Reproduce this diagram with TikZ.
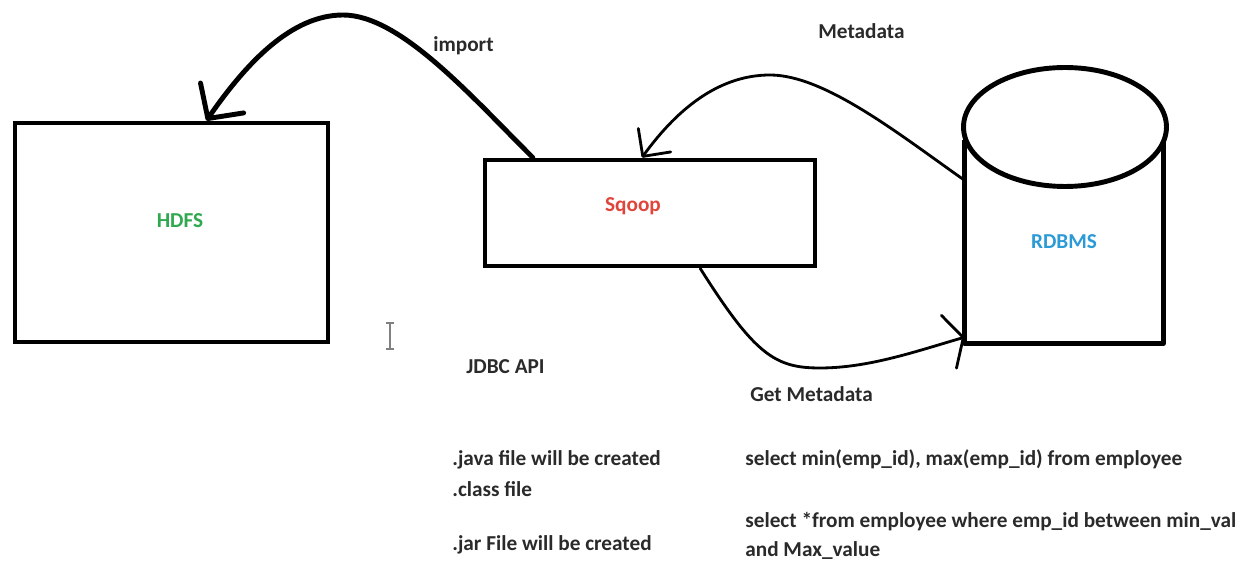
\documentclass[tikz,border=0pt]{standalone}
\usepackage{fontspec}
\setmainfont{Carlito}
\usepackage{xcolor}
\usepackage{tikz}
\usetikzlibrary{arrows.meta, calc, shapes.geometric}

\definecolor{hdfsgreen}{HTML}{2FA84F}
\definecolor{sqoopred}{HTML}{E0453C}
\definecolor{rdbmsblue}{HTML}{2B9AD6}
\definecolor{txtgray}{HTML}{2A2A2A}

\begin{document}
\begin{tikzpicture}[
  x=0.02cm, y=-0.02cm,
  font=\fontsize{12.1}{15}\selectfont\bfseries,
  box/.style={rectangle, draw=black, line width=2.8pt, inner sep=0pt},
  lbl/.style={anchor=base west, inner sep=0pt, text=txtgray},
  title/.style={inner sep=0pt},
  arrbig/.style={line width=2.8pt, line cap=round,
                 -{Straight Barb[length=0.5cm, width=1.05cm, round]}},
  arrthin/.style={line width=1.6pt, line cap=round,
                  -{Straight Barb[length=0.4cm, width=0.8cm, round]}},
  arrwide/.style={line width=1.6pt, line cap=round,
                  -{Straight Barb[length=0.3cm, width=1.1cm, round]}}
]
\useasboundingbox (0,0) rectangle (1249,563);
%% boxes
\node[box, minimum width=6.26cm, minimum height=4.38cm] (hdfs) at (171.5,232.5) {};
\node[title, text=hdfsgreen] (hdfs_t) at (180,221) {HDFS};
\node[box, minimum width=6.6cm, minimum height=2.12cm] (sqoop) at (650,213) {};
\node[title, text=sqoopred] (sqoop_t) at (633,206) {Sqoop};
%% cylinder (full ellipse on top, open body below)
\node[draw=none, minimum width=3.96cm, minimum height=4.06cm, inner sep=0pt,
      text=rdbmsblue] (rdbms) at (1064,241.5) {RDBMS};
\draw[line width=2.8pt, line join=round]
  (rdbms.north west) -- (rdbms.south west) -- (rdbms.south east) -- (rdbms.north east);
\node[ellipse, draw=black, fill=white, line width=2.8pt, inner sep=0pt,
      minimum width=4.06cm, minimum height=2.38cm] (rdbms_top) at (1065,127) {};
%% connector ends
\coordinate (imp_s) at ($(sqoop.north west)!0.15!(sqoop.north east)$);
\coordinate (imp_e) at ($(hdfs.north west)!0.61!(hdfs.north east)$);
\coordinate (meta_s) at ($(rdbms.north west)!0.2!(rdbms.south west)$);
\coordinate (meta_e) at ($(sqoop.north west)!0.476!(sqoop.north east)$);
\coordinate (get_s) at ($(sqoop.south west)!0.65!(sqoop.south east)$);
\coordinate (get_e) at ($(rdbms.north west)!0.97!(rdbms.south west)$);
%% arrows
\draw[arrbig] (imp_s) .. controls (470,95) and (400,15) .. (343,15)
                      .. controls (292,15) and (247,62) .. (imp_e);
\draw[arrthin] (meta_s) .. controls (900,135) and (825,75) .. (770,75)
                        .. controls (722,75) and (680,105) .. (meta_e);
\draw[arrwide] (get_s) .. controls (755,355) and (775,368) .. (820,368)
                       .. controls (870,368) and (920,350) .. (get_e);
%% labels
\node[lbl] (l_import) at (433,52) {import};
\node[lbl] (l_meta) at (818,39) {Metadata};
\node[lbl] (l_jdbc) at (466,374) {JDBC API};
\node[lbl] (l_get) at (750,402) {Get Metadata};
\node[lbl] (l_java) at (452,466) {.java file will be created};
\node[lbl] (l_class) at (452,497) {.class file};
\node[lbl] (l_jar) at (452,551) {.jar File will be created};
\node[lbl] (l_q1) at (745,466) {select min(emp\_id), max(emp\_id) from employee};
\node[lbl] (l_q2) at (745,528) {select *from employee where emp\_id between min\_val};
\node[lbl] (l_q3) at (745,557) {and Max\_value};
%% text cursor
\draw[gray, line width=0.9pt] (390,324) -- (390,348)
  (386,323) -- (394,323) (386,349) -- (394,349);
\end{tikzpicture}
\end{document}
